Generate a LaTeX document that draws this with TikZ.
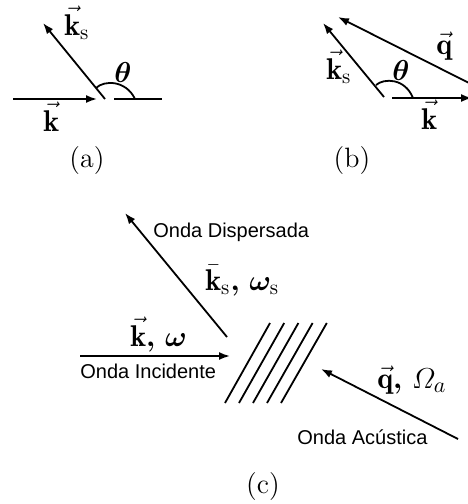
\documentclass[tikz,border=0pt]{standalone}
\usepackage{amsmath,bm}
\usepackage{fontspec}
\setsansfont{Liberation Sans}
\usetikzlibrary{arrows.meta}
\begin{document}
\begin{tikzpicture}[x=0.5pt,y=-0.5pt,
  vec/.style={line width=0.9pt,-{Latex[length=5.5pt,width=4pt]}},
  ln/.style={line width=0.9pt},
  mlbl/.style={inner sep=0pt,anchor=base west,font=\fontsize{15}{18}\selectfont},
  caplbl/.style={inner sep=0pt,font=\fontsize{14}{16}\selectfont},
  txt/.style={inner sep=0pt,anchor=base west,font=\sffamily\fontsize{10}{12}\selectfont}]
\useasboundingbox (0,0) rectangle (467,504);

% ---------- (a)
\coordinate (aO) at (105,99);
\coordinate (aL) at (13,99);
\coordinate (aK) at (97,99);
\coordinate (aS) at (43,23);
\coordinate (aR1) at (114,99);
\coordinate (aR2) at (162,99);
\coordinate (aA1) at (96,88);
\coordinate (aA2) at (135,99);
\draw[vec] (aL) -- (aK);
\draw[vec] (aO) -- (aS);
\draw[ln] (aR1) -- (aR2);
\draw[ln] (aA1) .. controls (104,80) and (126,80) .. (aA2);
\node[mlbl] (aks) at (64,35) {$\vec{\mathbf{k}}_{\mathrm{s}}$};
\node[mlbl] (ak) at (43,131) {$\vec{\mathbf{k}}$};
\node[mlbl] (ath) at (114,82) {$\boldsymbol{\theta}$};
\node[caplbl] (alab) at (87,161) {(a)};

% ---------- (b)
\coordinate (bO) at (384,97);
\coordinate (bS) at (323,23);
\coordinate (bK0) at (392,98);
\coordinate (bK1) at (472,98);
\coordinate (bQ0) at (475,86);
\coordinate (bQ1) at (338,17);
\coordinate (bA1) at (376,85);
\coordinate (bA2) at (413,98);
\draw[vec] (bO) -- (bS);
\draw[vec] (bK0) -- (bK1);
\draw[vec] (bQ0) -- (bQ1);
\draw[ln] (bA1) .. controls (384,78) and (405,78) .. (bA2);
\node[mlbl] (bks) at (326,79) {$\vec{\mathbf{k}}_{\mathrm{s}}$};
\node[mlbl] (bth) at (392,80) {$\boldsymbol{\theta}$};
\node[mlbl] (bq) at (436,54) {$\vec{\mathbf{q}}$};
\node[mlbl] (bk) at (421,129) {$\vec{\mathbf{k}}$};
\node[caplbl] (blab) at (352,161) {(b)};

% ---------- (c)
\coordinate (cI0) at (80,356);
\coordinate (cI1) at (230,356);
\coordinate (cS0) at (227,337);
\coordinate (cS1) at (125,213);
\coordinate (cA0) at (458,439);
\coordinate (cA1) at (321,369);
\draw[vec] (cI0) -- (cI1);
\draw[vec] (cS0) -- (cS1);
\draw[vec] (cA0) -- (cA1);
\foreach \i in {0,...,4} {
  \coordinate (hb\i) at (225+14*\i,403);
  \coordinate (ht\i) at (270+14.2*\i,323);
  \draw[ln] (hb\i) -- (ht\i);
}
\node[txt] (tdis) at (153,237) {Onda Dispersada};
\node[txt] (tinc) at (80,378) {Onda Incidente};
\node[txt] (tac) at (297,444) {Onda Acústica};
\node[mlbl] (cks) at (205,290) {$\bar{\mathbf{k}}_{\mathrm{s}}\boldsymbol{,}\,\boldsymbol{\omega}_{\mathrm{s}}$};
\node[mlbl] (ck) at (130,346) {$\vec{\mathbf{k}}\boldsymbol{,}\,\boldsymbol{\omega}$};
\node[mlbl] (cq) at (377,388) {$\vec{\mathbf{q}}\boldsymbol{,}\,\varOmega_{a}$};
\node[caplbl] (clab) at (263,487) {(c)};
\end{tikzpicture}
\end{document}
